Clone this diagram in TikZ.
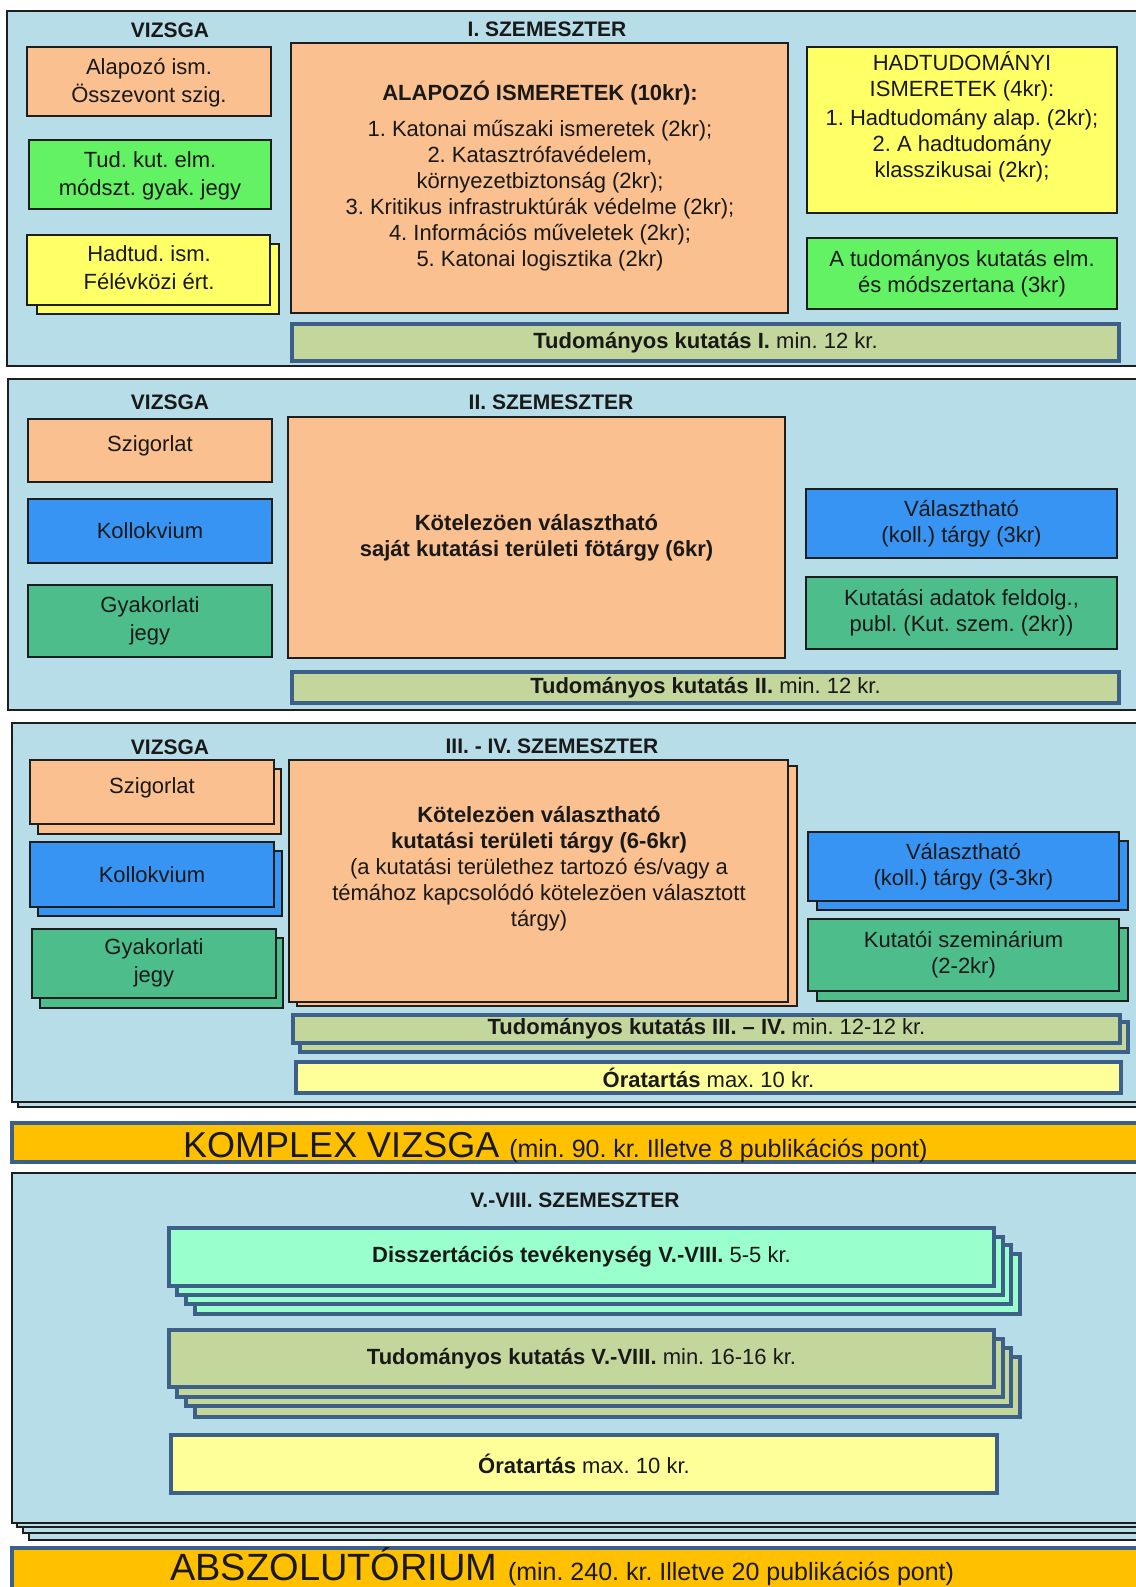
\documentclass[tikz,border=0pt]{standalone}
\usepackage{fontspec}
\setmainfont{Liberation Sans}
\usepackage{graphicx}
\frenchspacing
\definecolor{panelblue}{HTML}{B7DDE8}
\definecolor{orng}{HTML}{FAC090}
\definecolor{lgreen}{HTML}{63F263}
\definecolor{ylw}{HTML}{FFFF66}
\definecolor{blu}{HTML}{3894F2}
\definecolor{dgreen}{HTML}{4DBD8C}
\definecolor{olivebar}{HTML}{C3D69B}
\definecolor{lylw}{HTML}{FFFF99}
\definecolor{mint}{HTML}{99FFCC}
\definecolor{gold}{HTML}{FFC000}
\definecolor{steel}{HTML}{3D6088}
\definecolor{edge}{HTML}{1E1E1E}
\newcommand\body{\fontsize{22}{26}\selectfont}
\newcommand\hd{\fontsize{21}{25}\selectfont\bfseries}
\newcommand\bx[7]{\node[#1, minimum width={#4-#2}, minimum height={#5-#3}] (#7) at ({(#2+#4)/2},{(#3+#5)/2}) {#6};}
\tikzset{
  every node/.style={text=black!90, font=\body},
  panel/.style={draw=edge, line width=1.3, fill=panelblue, inner sep=0pt},
  tbox/.style={draw=edge, line width=1.3, align=center, inner sep=0pt, outer sep=0pt},
  barbox/.style={draw=steel, line width=3.5, align=center, inner sep=0pt, outer sep=0pt},
  goldbar/.style={draw=steel, line width=4, fill=gold, inner sep=0pt},
  txt/.style={align=center, inner sep=0pt},
}
\begin{document}
\begin{tikzpicture}[x=1pt,y=-1pt]
\useasboundingbox (0,0) rectangle (1135,1587);
\fill[white] (0,0) rectangle (1135,1587);
% ---------------- Panel 1
\bx{panel}{7}{11}{1150}{366}{}{p1}
\node[font=\hd] (v1) at (170,30) {VIZSGA};
\node[font=\hd] (s1) at (547,29) {I. SZEMESZTER};
\bx{tbox,fill=orng}{27}{47}{271}{116}{}{a1}
\node[txt,font=\fontsize{22}{28}\selectfont] (a1t) at (149,83) {Alapozó ism.\\Összevont szig.};
\bx{tbox,fill=lgreen}{29}{140}{271}{209}{}{a2}
\node[txt,font=\fontsize{22}{28}\selectfont] (a2t) at (150,176) {Tud. kut. elm.\\módszt. gyak. jegy};
\bx{tbox,fill=ylw}{37}{244}{279}{314}{}{a3b}
\bx{tbox,fill=ylw}{27}{235}{270}{305}{}{a3}
\node[txt,font=\fontsize{22}{28}\selectfont] (a3t) at (149,268) {Hadtud. ism.\\Félévközi ért.};
\bx{tbox,fill=orng}{291}{43}{788}{313}{}{c1}
\node[txt] (c1t) at (540,176) {{\bfseries ALAPOZÓ ISMERETEK (10kr):}\\[10pt]1. Katonai műszaki ismeretek (2kr);\\2. Katasztrófavédelem,\\környezetbiztonság (2kr);\\3. Kritikus infrastruktúrák védelme (2kr);\\4. Információs műveletek (2kr);\\5. Katonai logisztika (2kr)};
\bx{tbox,fill=ylw}{807}{47}{1117}{213}{}{h1}
\node[txt] (h1t) at (962,117) {HADTUDOMÁNYI\\ISMERETEK (4kr):\\[3pt]1. Hadtudomány alap. (2kr);\\2. A hadtudomány\\klasszikusai (2kr);};
\bx{tbox,fill=lgreen}{807}{238}{1117}{309}{A tudományos kutatás elm.\\és módszertana (3kr)}{g1}
\bx{barbox,fill=olivebar}{292}{324}{1119}{361}{\textbf{Tudományos kutatás I.} min. 12 kr.}{t1}
% ---------------- Panel 2
\bx{panel}{8}{379}{1150}{710}{}{p2}
\node[font=\hd] (v2) at (170,402) {VIZSGA};
\node[font=\hd] (s2) at (551,402) {II. SZEMESZTER};
\bx{tbox,fill=orng}{28}{419}{272}{482}{}{b1}
\node[txt] (b1t) at (150,446) {Szigorlat};
\bx{tbox,fill=blu}{28}{499}{272}{563}{Kollokvium}{b2}
\bx{tbox,fill=dgreen}{28}{585}{272}{657}{}{b3}
\node[txt,font=\fontsize{22}{28}\selectfont] (b3t) at (150,621) {Gyakorlati\\jegy};
\bx{tbox,fill=orng}{288}{417}{785}{658}{\bfseries Kötelezöen választható\\\bfseries saját kutatási területi fötárgy (6kr)}{c2}
\bx{tbox,fill=blu}{806}{489}{1117}{558}{Választható\\(koll.) tárgy (3kr)}{b4}
\bx{tbox,fill=dgreen}{806}{577}{1117}{649}{Kutatási adatok feldolg.,\\publ. (Kut. szem. (2kr))}{b5}
\bx{barbox,fill=olivebar}{292}{672}{1119}{703}{\textbf{Tudományos kutatás II.} min. 12 kr.}{t2}
% ---------------- Panel 3
\bx{panel}{18}{729}{1150}{1107}{}{p3b}
\bx{panel}{12}{723}{1150}{1102}{}{p3}
\node[font=\hd] (v3) at (170,747) {VIZSGA};
\node[font=\hd] (s3) at (552,746) {III. - IV. SZEMESZTER};
\bx{tbox,fill=orng}{38}{769}{281}{834}{}{d1b}
\bx{tbox,fill=orng}{30}{760}{274}{824}{}{d1}
\node[txt] (d1t) at (152,788) {Szigorlat};
\bx{tbox,fill=blu}{38}{851}{282}{916}{}{d2b}
\bx{tbox,fill=blu}{30}{842}{274}{907}{Kollokvium}{d2}
\bx{tbox,fill=dgreen}{40}{938}{283}{1008}{}{d3b}
\bx{tbox,fill=dgreen}{32}{929}{276}{998}{}{d3}
\node[txt,font=\fontsize{22}{28}\selectfont] (d3t) at (154,963) {Gyakorlati\\jegy};
\bx{tbox,fill=orng}{297}{766}{797}{1006}{}{c3b}
\bx{tbox,fill=orng}{289}{760}{788}{1002}{}{c3}
\node[txt] (c3t) at (539,869) {{\bfseries Kötelezöen választható}\\{\bfseries kutatási területi tárgy (6-6kr)}\\(a kutatási területhez tartozó és/vagy a\\témához kapcsolódó kötelezöen választott\\tárgy)};
\bx{tbox,fill=blu}{817}{841}{1128}{910}{}{d4b}
\bx{tbox,fill=blu}{808}{832}{1119}{901}{Választható\\(koll.) tárgy (3-3kr)}{d4}
\bx{tbox,fill=dgreen}{817}{928}{1128}{1001}{}{d5b}
\bx{tbox,fill=dgreen}{808}{919}{1119}{991}{Kutatói szeminárium\\(2-2kr)}{d5}
\bx{barbox,fill=olivebar}{300}{1022}{1128}{1052}{}{t3b}
\bx{barbox,fill=olivebar}{293}{1015}{1120}{1043}{\textbf{Tudományos kutatás III. – IV.} min. 12-12 kr.}{t3}
\bx{barbox,fill=lylw}{296}{1062}{1121}{1093}{\textbf{Óratartás} max. 10 kr.}{o3}
% ---------------- Komplex vizsga
\bx{goldbar}{12}{1123}{1150}{1162}{}{kv}
\node[anchor=base west, inner sep=0pt] (kvt) at (183,1157) {\fontsize{36}{36}\selectfont KOMPLEX VIZSGA \fontsize{25}{25}\selectfont (min. 90. kr. Illetve 8 publikációs pont)};
% ---------------- Panel 4
\bx{panel}{29}{1190}{1150}{1540}{}{p4c}
\bx{panel}{23}{1185}{1150}{1533}{}{p4b}
\bx{panel}{17}{1180}{1150}{1527}{}{p4a}
\bx{panel}{12}{1173}{1150}{1523}{}{p4}
\node[font=\hd] (s4) at (575,1200) {V.-VIII. SZEMESZTER};
\bx{barbox,line width=4,fill=mint}{195}{1254}{1020}{1314}{}{e1c}
\bx{barbox,line width=4,fill=mint}{186}{1245}{1011}{1304}{}{e1b}
\bx{barbox,line width=4,fill=mint}{177}{1237}{1003}{1295}{}{e1a}
\bx{barbox,line width=4,fill=mint}{169}{1228}{994}{1286}{\textbf{Disszertációs tevékenység V.-VIII.} 5-5 kr.}{e1}
\bx{barbox,line width=4,fill=olivebar}{195}{1357}{1020}{1417}{}{e2c}
\bx{barbox,line width=4,fill=olivebar}{186}{1348}{1011}{1406}{}{e2b}
\bx{barbox,line width=4,fill=olivebar}{177}{1339}{1003}{1397}{}{e2a}
\bx{barbox,line width=4,fill=olivebar}{169}{1330}{994}{1387}{\textbf{Tudományos kutatás V.-VIII.} min. 16-16 kr.}{e2}
\bx{barbox,line width=4,fill=lylw}{171}{1435}{997}{1493}{\textbf{Óratartás} max. 10 kr.}{e3}
% ---------------- Abszolutórium
\bx{goldbar}{12}{1548}{1150}{1600}{}{ab}
\node[anchor=base west, inner sep=0pt] (abt) at (170,1580) {\fontsize{38}{38}\selectfont ABSZOLUTÓRIUM \fontsize{25}{25}\selectfont (min. 240. kr. Illetve 20 publikációs pont)};
\end{tikzpicture}
\end{document}
